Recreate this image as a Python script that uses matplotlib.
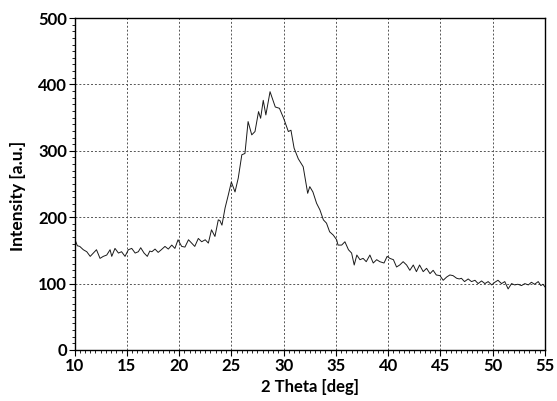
import matplotlib.pyplot as plt
from matplotlib.ticker import MultipleLocator

# 2-theta positions [deg] and intensities [a.u.]
two_theta = [
    10.0, 10.05, 10.27, 10.5, 10.84, 11.17, 11.5, 11.8, 12.1, 12.44, 12.75,
    13.08, 13.4, 13.56, 13.87, 14.2, 14.5, 14.83, 15.15, 15.47, 15.8, 16.1,
    16.33, 16.65, 16.96, 17.2, 17.4, 17.7, 18.0, 18.3, 18.65, 18.97, 19.3,
    19.6, 19.9, 20.25, 20.56, 20.9, 21.2, 21.5, 21.84, 22.16, 22.5, 22.8,
    23.1, 23.43, 23.75, 23.9, 24.1, 24.4, 24.7, 25.0, 25.35, 25.66, 26.0,
    26.3, 26.6, 26.95, 27.26, 27.6, 27.8, 28.05, 28.3, 28.7, 29.2, 29.6,
    30.0, 30.45, 30.7, 31.0, 31.4, 31.87, 32.3, 32.5, 32.8, 33.15, 33.47,
    33.8, 34.1, 34.4, 34.75, 35.07, 35.2, 35.55, 35.86, 36.2, 36.5, 36.75,
    37.0, 37.3, 37.6, 37.9, 38.25, 38.57, 38.9, 39.2, 39.6, 39.9, 40.16,
    40.5, 40.8, 41.1, 41.43, 41.76, 42.07, 42.4, 42.7, 43.0, 43.35, 43.67,
    44.0, 44.3, 44.6, 44.95, 45.26, 45.6, 45.9, 46.2, 46.55, 46.8, 47.0,
    47.3, 47.65, 47.97, 48.3, 48.6, 48.93, 49.25, 49.56, 49.9, 50.2, 50.5,
    50.84, 51.15, 51.47, 51.8, 52.1, 52.4, 52.75, 53.07, 53.4, 53.7, 54.0,
    54.35, 54.6, 54.8, 55.0,
]
intensity = [
    168, 166, 157, 156, 151, 148, 141, 146, 151, 138, 141,
    143, 151, 141, 153, 146, 148, 141, 151, 153, 146, 148,
    154, 146, 141, 149, 148, 152, 147, 151, 156, 152, 158,
    153, 166, 156, 155, 166, 161, 156, 168, 163, 166, 161,
    181, 171, 196, 195, 188, 214, 233, 253, 238, 259, 294,
    296, 344, 324, 329, 359, 349, 376, 354, 389, 366, 364,
    349, 329, 331, 304, 288, 276, 236, 246, 238, 221, 211,
    196, 191, 178, 173, 166, 158, 158, 163, 151, 146, 128,
    143, 136, 138, 133, 143, 131, 136, 133, 131, 141, 138,
    136, 125, 128, 133, 128, 120, 128, 118, 128, 118, 123,
    115, 120, 113, 112, 105, 110, 113, 112, 108, 107, 108,
    103, 107, 103, 105, 100, 104, 100, 103, 98, 102, 105,
    100, 103, 92, 100, 98, 99, 97, 100, 98, 102, 99,
    103, 97, 99, 95,
]

x_ticks = [10, 15, 20, 25, 30, 35, 40, 45, 50, 55]
y_ticks = [0, 100, 200, 300, 400, 500]

plt.rcParams["font.family"] = ["Lato", "DejaVu Sans"]
plt.rcParams["font.weight"] = "bold"

fig = plt.figure(figsize=(5.57, 4.01), dpi=100)
ax = fig.add_axes([0.1338, 0.1272, 0.8447, 0.8279])

ax.plot(two_theta, intensity, color="#1a1a1a", linewidth=0.7)

ax.set_xlim(10, 55)
ax.set_ylim(0, 500)
ax.set_xticks(x_ticks)
ax.set_yticks(y_ticks)
ax.xaxis.set_minor_locator(MultipleLocator(0.5))
ax.yaxis.set_minor_locator(MultipleLocator(10))

ax.tick_params(which="major", direction="out", length=4, width=0.8,
               labelsize=12, pad=1.5)
ax.tick_params(which="minor", direction="out", length=2, width=0.6)
for label in ax.get_xticklabels() + ax.get_yticklabels():
    label.set_fontweight("bold")

ax.grid(which="major", color="#555555", linestyle=(0, (2, 2)), linewidth=0.7)

for spine in ax.spines.values():
    spine.set_linewidth(1.0)
    spine.set_color("black")

ax.set_xlabel("2 Theta [deg]", fontsize=12, fontweight="bold", labelpad=4)
ax.set_ylabel("Intensity [a.u.]", fontsize=12.5, fontweight="bold")
ax.yaxis.set_label_coords(-0.103, 0.465)

fig.savefig("out.png", dpi=100)
